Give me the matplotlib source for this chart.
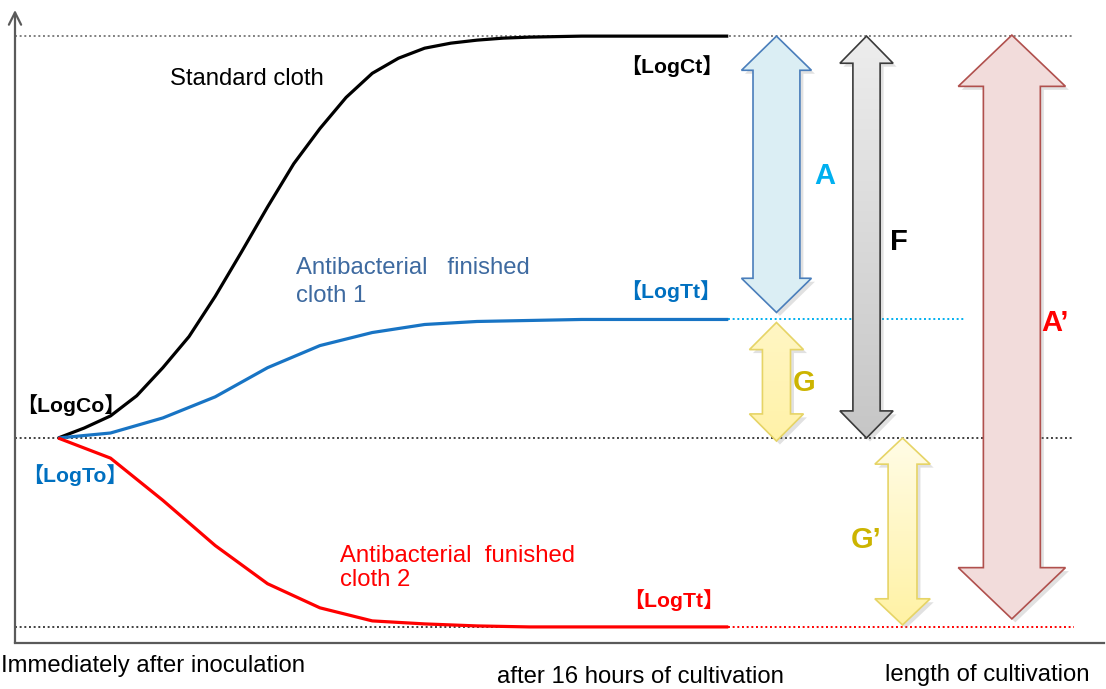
import numpy as np
import matplotlib
matplotlib.use("Agg")
import matplotlib.pyplot as plt
from matplotlib.patches import Polygon
import matplotlib.patheffects as pe

plt.rcParams['font.family'] = ['Liberation Sans', 'Noto Sans CJK JP', 'DejaVu Sans']

# ---------------- data ----------------
hours_std = [0, 0.625, 1.25, 1.875, 2.5, 3.125, 3.75, 4.375, 5.0, 5.625, 6.25,
             6.875, 7.5, 8.125, 8.75, 9.375, 10.0, 10.625, 11.25, 11.875, 12.5, 16.0]
standard_cloth = [4.00, 4.10, 4.22, 4.42, 4.70, 5.01, 5.41, 5.85, 6.30, 6.73, 7.08,
                  7.39, 7.63, 7.78, 7.88, 7.93, 7.96, 7.98, 7.99, 7.995, 8.0, 8.0]

hours = [0, 1.25, 2.5, 3.75, 5.0, 6.25, 7.5, 8.75, 10.0, 11.25, 12.5, 16.0]
finished_cloth1 = [4.0, 4.05, 4.20, 4.41, 4.70, 4.92, 5.05, 5.13, 5.16, 5.17, 5.18, 5.18]
finished_cloth2 = [4.0, 3.80, 3.38, 2.93, 2.55, 2.31, 2.18, 2.15, 2.13, 2.12, 2.12, 2.12]

log_co = 4.0     # LogCo / LogTo
log_ct = 8.0     # LogCt
log_tt1 = 5.18   # LogTt cloth 1
log_tt2 = 2.12   # LogTt cloth 2
t_end = 16.0

x_labels = ["Immediately after inoculation", "after 16 hours of cultivation",
            "length of cultivation"]

# ---------------- figure ----------------
W, H = 1106, 689
fig = plt.figure(figsize=(W / 100, H / 100), dpi=100)
ax = fig.add_axes([15 / W, (H - 643) / H, (1104 - 15) / W, (643 - 10) / H])
ax.set_xlim(-1.03, 24.97)
ax.set_ylim(1.96, 8.26)
for s in ['top', 'right', 'left']:
    ax.spines[s].set_visible(False)
ax.spines['bottom'].set_color('#5a5a5a')
ax.spines['bottom'].set_linewidth(1.6)
ax.set_xticks([])
ax.set_yticks([])
ax.annotate('', xy=(0, 1), xytext=(0, 0), xycoords='axes fraction',
            arrowprops=dict(arrowstyle='->', lw=1.6, color='#5a5a5a',
                            mutation_scale=22, shrinkA=0, shrinkB=0))

dot = (0, (1.0, 1.4))
x_left = -1.03
x_right = 24.25
ax.plot([x_left, x_right], [log_ct, log_ct], color='#808080', lw=1.4, ls=dot)
ax.plot([x_left, x_right], [log_co, log_co], color='#404040', lw=1.4, ls=dot)
ax.plot([t_end, 21.65], [log_tt1, log_tt1], color='#00B0F0', lw=1.4, ls=dot)
ax.plot([x_left, t_end], [log_tt2, log_tt2], color='#404040', lw=1.4, ls=dot)
ax.plot([t_end, x_right], [log_tt2, log_tt2], color='#FF0000', lw=1.4, ls=dot)

# curves
ax.plot(hours_std, standard_cloth, color='black', lw=2.3, solid_capstyle='butt',
        solid_joinstyle='round')
ax.plot(hours, finished_cloth1, color='#1874C4', lw=2.3, solid_capstyle='butt',
        solid_joinstyle='round')
ax.plot(hours, finished_cloth2, color='#FF0000', lw=2.3, solid_capstyle='butt',
        solid_joinstyle='round')


def double_arrow(xc, y_top, y_bot, head_w, shaft_w, head_len, edge,
                 fill=None, grad=None):
    pts = [
        (xc, y_top),
        (xc + head_w / 2, y_top - head_len),
        (xc + shaft_w / 2, y_top - head_len),
        (xc + shaft_w / 2, y_bot + head_len),
        (xc + head_w / 2, y_bot + head_len),
        (xc, y_bot),
        (xc - head_w / 2, y_bot + head_len),
        (xc - shaft_w / 2, y_bot + head_len),
        (xc - shaft_w / 2, y_top - head_len),
        (xc - head_w / 2, y_top - head_len),
    ]
    base = Polygon(pts, closed=True, facecolor=fill if fill else 'white',
                   edgecolor='none', zorder=3,
                   path_effects=[pe.SimplePatchShadow(offset=(2.5, -2.5),
                                                      alpha=0.25, shadow_rgbFace='#888888'),
                                 pe.Normal()])
    ax.add_patch(base)
    if grad is not None:
        c_top, c_bot = [np.array(matplotlib.colors.to_rgb(c)) for c in grad]
        t = np.linspace(0, 1, 200)[:, None]
        img = (1 - t) * c_top + t * c_bot
        img = np.repeat(img[:, None, :], 2, axis=1)
        im = ax.imshow(img, extent=[xc - head_w / 2, xc + head_w / 2, y_bot, y_top],
                       aspect='auto', zorder=3.5, interpolation='bilinear')
        im.set_clip_path(base)
    outline = Polygon(pts, closed=True, facecolor='none', edgecolor=edge,
                      lw=1.2, zorder=4, joinstyle='miter')
    ax.add_patch(outline)


# A
double_arrow(17.15, log_ct, log_tt1 + 0.07, 1.67, 1.12, 0.34, '#4A7EBB', fill='#DBEEF4')
# F
double_arrow(19.30, log_ct, log_co, 1.27, 0.65, 0.27, '#3A3A3A',
             grad=('#EDEDED', '#C6C6C6'))
# A'
double_arrow(22.77, log_ct + 0.01, log_tt2 + 0.08, 2.56, 1.36, 0.51, '#B0504D', fill='#F2DCDB')
# G
double_arrow(17.15, log_tt1 - 0.03, log_co - 0.03, 1.29, 0.67, 0.27, '#E6D466',
             grad=('#FFF6C4', '#FFF2A8'))
# G'
double_arrow(20.16, log_co, log_tt2 + 0.02, 1.32, 0.69, 0.26, '#E6D466',
             grad=('#FFFCE6', '#FFF2A4'))
ax.set_xlim(-1.03, 24.97)
ax.set_ylim(1.96, 8.26)

# curve labels
fs = 17.2
ax.text(2.68, 7.51, "Standard cloth", fontsize=fs, color='black', va='baseline')
ax.text(5.69, 5.63, "Antibacterial   finished", fontsize=fs, color='#3E6AA0', va='baseline')
ax.text(5.69, 5.35, "cloth 1", fontsize=fs, color='#3E6AA0', va='baseline')
ax.text(6.74, 2.77, "Antibacterial  funished", fontsize=fs, color='#FF0000', va='baseline')
ax.text(6.74, 2.53, "cloth 2", fontsize=fs, color='#FF0000', va='baseline')

# bracket labels
bfs = 15.2
ax.text(-1.0, 4.26, "【LogCo】", fontsize=bfs, fontweight='bold', color='black', va='baseline')
ax.text(-0.86, 3.56, "【LogTo】", fontsize=bfs, fontweight='bold', color='#0070C0', va='baseline')
ax.text(13.42, 7.63, "【LogCt】", fontsize=bfs, fontweight='bold', color='black', va='baseline')
ax.text(13.42, 5.39, "【LogTt】", fontsize=bfs, fontweight='bold', color='#0070C0', va='baseline')
ax.text(13.50, 2.32, "【LogTt】", fontsize=bfs, fontweight='bold', color='#FF0000', va='baseline')

# arrow letters
lfs = 21
ax.text(18.30, 6.53, "A", fontsize=lfs, fontweight='bold', color='#00B0F0', ha='center', va='baseline')
ax.text(20.07, 5.87, "F", fontsize=lfs, fontweight='bold', color='black', ha='center', va='baseline')
ax.text(17.82, 4.47, "G", fontsize=lfs, fontweight='bold', color='#CCB400', ha='center', va='baseline')
ax.text(19.28, 2.91, "G\u2019", fontsize=lfs, fontweight='bold', color='#CCB400', ha='center', va='baseline')
ax.text(23.80, 5.07, "A\u2019", fontsize=lfs, fontweight='bold', color='#FF0000', ha='center', va='baseline')

# x-axis labels
fig.text(1 / W, 1 - 672 / H, x_labels[0], fontsize=fs, color='black', va='baseline')
fig.text(497 / W, 1 - 683 / H, x_labels[1], fontsize=fs, color='black', va='baseline')
fig.text(885 / W, 1 - 681 / H, x_labels[2], fontsize=fs, color='black', va='baseline')

fig.savefig("out.png", dpi=100)
